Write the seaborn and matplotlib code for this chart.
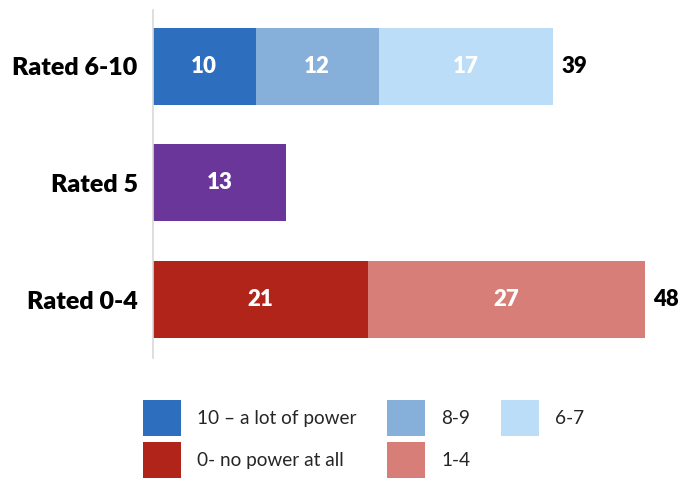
import matplotlib
matplotlib.use("Agg")
import matplotlib.pyplot as plt
import seaborn as sns
import pandas as pd
from matplotlib.patches import Patch

categories = ["Rated 6-10", "Rated 5", "Rated 0-4"]
seg_10 = [10, None, None]
seg_89 = [12, None, None]
seg_67 = [17, None, None]
seg_5 = [None, 13, None]
seg_0 = [None, None, 21]
seg_14 = [None, None, 27]
totals = ["39", None, "48"]
legend_labels = ["10 \u2013 a lot of power", "8-9", "6-7", "0- no power at all", "1-4"]

c10, c89, c67, c5, c0, c14 = "#2E6EBE", "#86B0DA", "#BBDDF7", "#6A3699", "#B0241A", "#D77E78"

sns.set_theme(style="white")
plt.rcParams["font.family"] = ["Lato", "DejaVu Sans"]

fig = plt.figure(figsize=(6.82, 4.78), dpi=100)
ax = fig.add_axes([153/682, 1-358/478, (672-153)/682, (358-10)/478])

stacks = [(seg_10, c10), (seg_89, c89), (seg_67, c67), (seg_5, c5), (seg_0, c0), (seg_14, c14)]
rows = {}
for vals, col in stacks:
    for i, v in enumerate(vals):
        if v is not None:
            rows.setdefault(i, []).append((v, col))

layers = []
for i, segs in rows.items():
    cum = 0
    for v, col in segs:
        start = cum
        cum += v
        layers.append((i, start, cum, v, col))
layers.sort(key=lambda t: -t[2])
for i, start, end, v, col in layers:
    df = pd.DataFrame({"cat": [categories[i]], "val": [end]})
    sns.barplot(data=df, x="val", y="cat", order=categories, color=col,
                saturation=1, width=0.66, linewidth=0, ax=ax)

for i, start, end, v, col in layers:
    ax.text((start + end) / 2, i, str(v), ha="center", va="center",
            color="white", fontsize=16, fontweight="heavy")

for i, t in enumerate(totals):
    if t is not None:
        end = sum(v for v, _ in rows[i])
        ax.annotate(t, (end, i), xytext=(6, 0), textcoords="offset points",
                    ha="left", va="center", fontsize=16, fontweight="heavy", color="black")

ax.set_xlim(0, (672-153)/10.25)
ax.set_ylim(2.5, -0.48)
ax.set_xlabel("")
ax.set_ylabel("")
ax.set_xticks([])
for s in ["top", "right", "bottom"]:
    ax.spines[s].set_visible(False)
ax.spines["left"].set_color("#D9D9D9")
ax.spines["left"].set_linewidth(1.2)
ax.tick_params(axis="y", length=0, pad=11)
for lab in ax.get_yticklabels():
    lab.set_fontsize(18)
    lab.set_fontweight("heavy")
    lab.set_color("black")

colors = [c10, c89, c67, c0, c14]
handles = [Patch(facecolor=c, edgecolor="none") for c in colors]
order = [0, 3, 1, 4, 2]
fig.legend([handles[k] for k in order], [legend_labels[k] for k in order],
           ncol=3, loc="upper left", bbox_to_anchor=(143/682, 1-400/478),
           frameon=False, fontsize=13.7, handlelength=2.0, handleheight=2.55,
           handletextpad=0.85, columnspacing=1.6, labelspacing=0.32,
           borderpad=0, borderaxespad=0)

fig.savefig("out.png", dpi=100)
